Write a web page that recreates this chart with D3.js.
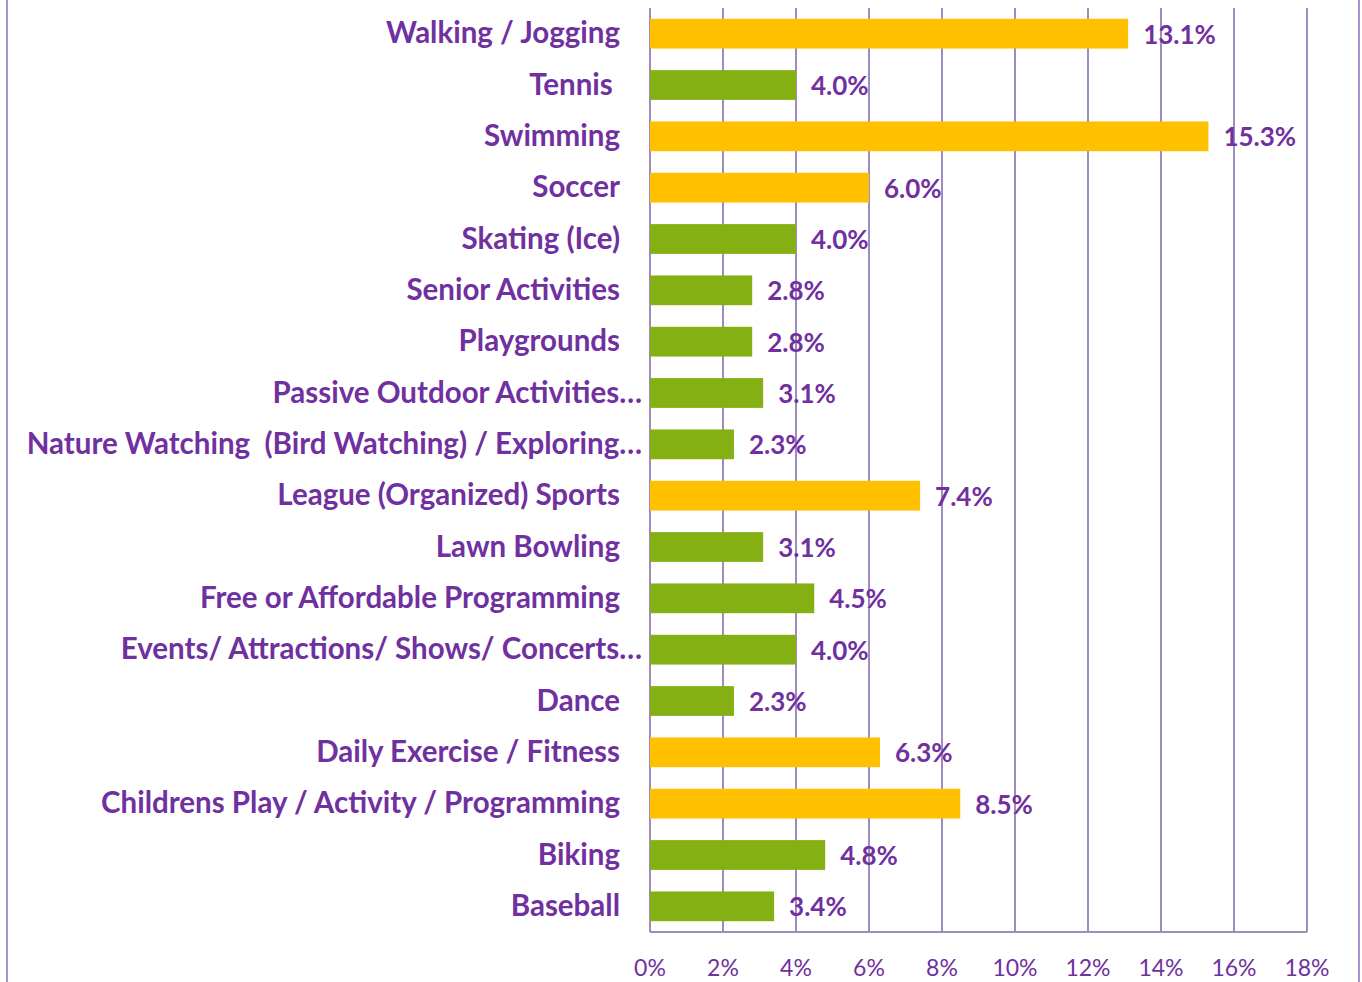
<!DOCTYPE html>
<html>
<head>
<meta charset="utf-8">
<title>Activities</title>
<style>
  body { margin: 0; background: #fff; }
  svg text { font-family: Lato, "Open Sans", sans-serif; fill: #7030a0; }
  .cat { font-weight: bold; font-size: 29.5px; white-space: pre; }
  .val { font-weight: bold; font-size: 26px; }
  .tick-lbl { font-size: 23px; }
  .grid line { stroke: #a08bc0; stroke-width: 2; }
</style>
<script src="https://d3js.org/d3.v7.min.js"></script>
</head>
<body>
<svg id="chart" width="1362" height="982"></svg>
<script>
// categories top to bottom
var categories = [
  "Walking / Jogging", "Tennis ", "Swimming", "Soccer", "Skating (Ice)",
  "Senior Activities", "Playgrounds", "Passive Outdoor Activities…",
  "Nature Watching  (Bird Watching) / Exploring…", "League (Organized) Sports",
  "Lawn Bowling", "Free or Affordable Programming", "Events/ Attractions/ Shows/ Concerts…",
  "Dance", "Daily Exercise / Fitness", "Childrens Play / Activity / Programming",
  "Biking", "Baseball"
];
var values = [13.1, 4.0, 15.3, 6.0, 4.0, 2.8, 2.8, 3.1, 2.3, 7.4, 3.1, 4.5, 4.0, 2.3, 6.3, 8.5, 4.8, 3.4];
var xTicks = [0, 2, 4, 6, 8, 10, 12, 14, 16, 18];

var svg = d3.select("#chart");
var plotL = 650, plotR = 1307, plotT = 8, plotB = 932;

var x = d3.scaleLinear().domain([0, 18]).range([plotL, plotR]);
var y = d3.scaleBand().domain(categories).range([plotT, plotB]).paddingInner(0.42).paddingOuter(0.21);

// outer frame lines
svg.append("line").attr("x1", 7).attr("x2", 7).attr("y1", 0).attr("y2", 982)
  .attr("stroke", "#a893cc").attr("stroke-width", 2);
svg.append("line").attr("x1", 1359).attr("x2", 1359).attr("y1", 0).attr("y2", 982)
  .attr("stroke", "#a893cc").attr("stroke-width", 2);

// gridlines
var grid = svg.append("g").attr("class", "grid");
grid.selectAll("line.v").data(xTicks).enter().append("line")
  .attr("x1", d => x(d)).attr("x2", d => x(d))
  .attr("y1", plotT).attr("y2", plotB);
grid.append("line").attr("x1", plotL).attr("x2", plotR).attr("y1", plotB).attr("y2", plotB);

// tick labels
svg.append("g").selectAll("text").data(xTicks).enter().append("text")
  .attr("class", "tick-lbl")
  .attr("x", d => x(d)).attr("y", 976)
  .attr("text-anchor", "middle")
  .text(d => d + "%");

// bars
svg.append("g").selectAll("rect").data(values).enter().append("rect")
  .attr("x", x(0))
  .attr("y", (d, i) => y(categories[i]))
  .attr("width", d => x(d) - x(0))
  .attr("height", y.bandwidth())
  .attr("fill", d => d >= 5 ? "#ffc000" : "#84b014");

// value labels
svg.append("g").selectAll("text").data(values).enter().append("text")
  .attr("class", "val")
  .attr("x", d => x(d) + 15)
  .attr("y", (d, i) => y(categories[i]) + y.bandwidth() / 2)
  .attr("dy", "0.38em")
  .text(d => d.toFixed(1) + "%");

// category labels
svg.append("g").selectAll("text").data(categories).enter().append("text")
  .attr("class", "cat")
  .attr("x", d => d.endsWith("…") ? 642 : 620)
  .attr("y", d => y(d) + y.bandwidth() / 2)
  .attr("dy", "0.33em")
  .attr("text-anchor", "end")
  .text(d => d);
</script>
</body>
</html>
